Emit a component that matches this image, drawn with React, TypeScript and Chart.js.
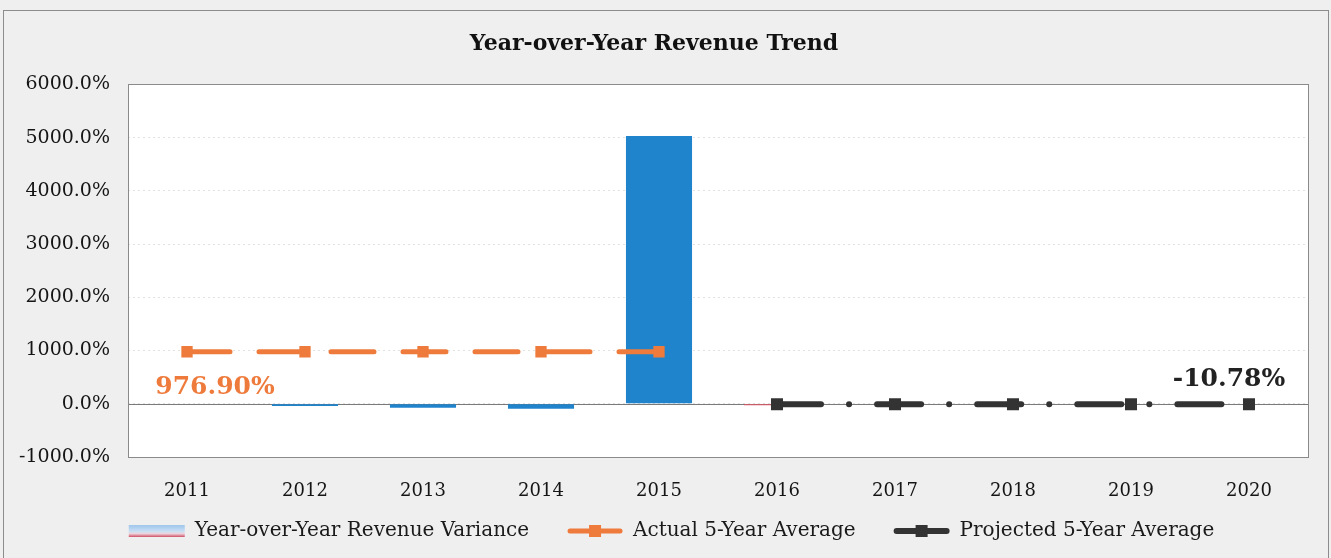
import React, { useEffect, useRef } from 'react';
import { Chart, registerables } from 'chart.js';

Chart.register(...registerables);

// ---- data ----
const chartTitle = 'Year-over-Year Revenue Trend';
const years = ['2011', '2012', '2013', '2014', '2015', '2016', '2017', '2018', '2019', '2020'];
const varianceValues: (number | null)[] = [0, -40, -75, -95, 5030, -30, null, null, null, null];
const varianceColors = ['#1f84cc', '#1f84cc', '#1f84cc', '#1f84cc', '#1f84cc', '#e05566', '#1f84cc', '#1f84cc', '#1f84cc', '#1f84cc'];
const actualAverage: (number | null)[] = [976.9, 976.9, 976.9, 976.9, 976.9, null, null, null, null, null];
const projectedAverage: (number | null)[] = [null, null, null, null, null, -10.78, -10.78, -10.78, -10.78, -10.78];
const seriesNames = ['Year-over-Year Revenue Variance', 'Actual 5-Year Average', 'Projected 5-Year Average'];
const actualLabel = '976.90%';
const projectedLabel = '-10.78%';
const yMin = -1000;
const yMax = 6000;
const yStep = 1000;

const FONT = '"DejaVu Serif", serif';
const ORANGE = '#ee7b3c';
const DARK = '#333333';

const backgroundPlugin = {
  id: 'bgFrame',
  beforeDraw(chart: any) {
    const { ctx, chartArea: a } = chart;
    ctx.save();
    ctx.fillStyle = '#efefef';
    ctx.fillRect(0, 0, chart.width, chart.height);
    ctx.strokeStyle = '#8c8c8c';
    ctx.lineWidth = 1;
    ctx.strokeRect(3.5, 10.5, chart.width - 6, chart.height + 20);
    ctx.fillStyle = '#ffffff';
    ctx.fillRect(a.left, a.top, a.right - a.left, a.bottom - a.top);
    ctx.restore();
  },
  beforeDatasetsDraw(chart: any) {
    const { ctx, chartArea: a, scales } = chart;
    const y0 = Math.round(scales.y.getPixelForValue(0)) + 0.5;
    ctx.save();
    ctx.strokeStyle = '#7a7a7a';
    ctx.lineWidth = 1;
    ctx.beginPath();
    ctx.moveTo(a.left, y0);
    ctx.lineTo(a.right, y0);
    ctx.stroke();
    ctx.strokeStyle = '#8a8a8a';
    ctx.strokeRect(Math.round(a.left) + 0.5, Math.round(a.top) + 0.5, Math.round(a.right - a.left), Math.round(a.bottom - a.top));
    ctx.restore();
  },
};

const valueLabelPlugin = {
  id: 'valueLabels',
  afterDatasetsDraw(chart: any) {
    const { ctx } = chart;
    ctx.save();
    ctx.font = `bold 25px ${FONT}`;
    ctx.textAlign = 'center';
    ctx.textBaseline = 'middle';
    const m1 = chart.getDatasetMeta(1);
    const p1 = m1.data[0];
    if (p1) {
      ctx.fillStyle = ORANGE;
      ctx.fillText(actualLabel, p1.x + 28, p1.y + 36);
    }
    const m2 = chart.getDatasetMeta(2);
    const p2 = m2.data[9];
    if (p2) {
      ctx.fillStyle = '#222222';
      ctx.fillText(projectedLabel, p2.x - 20, p2.y - 25);
    }
    ctx.restore();
  },
};

const legendPlugin = {
  id: 'customLegend',
  afterDraw(chart: any) {
    const { ctx } = chart;
    ctx.save();
    ctx.font = `20px ${FONT}`;
    const swW = 56;
    const gapT = 10;
    const gapI = 38;
    const ds = chart.data.datasets;
    const widths = ds.map((d: any) => swW + gapT + ctx.measureText(d.label).width);
    const total = widths.reduce((s: number, w: number) => s + w, 0) + gapI * (ds.length - 1);
    let x = chart.width / 2 - total / 2 + 6;
    const y = chart.chartArea.bottom + 74;
    ds.forEach((d: any, i: number) => {
      if (i === 0) {
        const g = ctx.createLinearGradient(0, y - 6, 0, y + 6);
        g.addColorStop(0, '#9fc6ec');
        g.addColorStop(0.55, '#c9dff4');
        g.addColorStop(0.72, '#eed3da');
        g.addColorStop(1, '#cf5068');
        ctx.fillStyle = g;
        ctx.fillRect(x, y - 6, swW, 12);
      } else {
        ctx.strokeStyle = d.borderColor;
        ctx.lineWidth = d.borderWidth;
        ctx.lineCap = 'round';
        ctx.beginPath();
        ctx.moveTo(x + 3, y);
        ctx.lineTo(x + swW - 3, y);
        ctx.stroke();
        ctx.fillStyle = d.borderColor;
        ctx.fillRect(x + swW / 2 - 6, y - 6, 12, 12);
      }
      ctx.fillStyle = '#1a1a1a';
      ctx.textAlign = 'left';
      ctx.textBaseline = 'middle';
      ctx.fillText(d.label, x + swW + gapT, y);
      x += widths[i] + gapI;
    });
    ctx.restore();
  },
};

export default function App() {
  const ref = useRef<HTMLCanvasElement | null>(null);

  useEffect(() => {
    if (!ref.current) return;
    const chart = new Chart(ref.current, {
      type: 'bar',
      data: {
        labels: years,
        datasets: [
          {
            type: 'bar',
            label: seriesNames[0],
            data: varianceValues,
            backgroundColor: varianceColors,
            borderWidth: 0,
            categoryPercentage: 1,
            barPercentage: 0.56,
            order: 2,
          } as any,
          {
            type: 'line',
            label: seriesNames[1],
            data: actualAverage,
            borderColor: ORANGE,
            backgroundColor: ORANGE,
            borderWidth: 5,
            borderDash: [43, 29],
            borderCapStyle: 'round',
            pointStyle: 'rect',
            pointRadius: 8,
            pointBorderWidth: 0,
            pointBackgroundColor: ORANGE,
            fill: false,
            order: 1,
          } as any,
          {
            type: 'line',
            label: seriesNames[2],
            data: projectedAverage,
            borderColor: DARK,
            backgroundColor: DARK,
            borderWidth: 6,
            borderDash: [44, 28, 0.1, 28],
            borderCapStyle: 'round',
            pointStyle: 'rect',
            pointRadius: 8.5,
            pointBorderWidth: 0,
            pointBackgroundColor: DARK,
            fill: false,
            order: 0,
          } as any,
        ],
      },
      options: {
        responsive: false,
        animation: false,
        devicePixelRatio: 1,
        layout: { padding: { left: 0, right: 23, top: 0, bottom: 51 } },
        plugins: {
          legend: { display: false },
          tooltip: { enabled: false },
          title: {
            display: true,
            text: chartTitle,
            color: '#111111',
            font: { family: FONT, size: 22, weight: 'bold' },
            padding: { top: 31, bottom: 27 },
          },
        },
        scales: {
          x: {
            offset: true,
            grid: { display: false },
            border: { display: false },
            ticks: { color: '#151515', font: { family: FONT, size: 18 }, padding: 16, maxRotation: 0 },
            afterFit: (s: any) => { s.height = 50; },
          },
          y: {
            min: yMin,
            max: yMax,
            grid: { color: '#e2e2e2', drawTicks: false, lineWidth: 1 },
            border: { display: false, dash: [2, 3] },
            ticks: {
              stepSize: yStep,
              color: '#151515',
              font: { family: FONT, size: 19 },
              padding: 18,
              callback: (v: any) => Number(v).toFixed(1) + '%',
            },
            afterFit: (s: any) => { s.width = 128; },
          },
        },
      } as any,
      plugins: [backgroundPlugin, valueLabelPlugin, legendPlugin],
    });
    return () => chart.destroy();
  }, []);

  return (
    <div style={{ position: 'fixed', left: 0, top: 0, width: 1331, height: 558, background: '#efefef' }}>
      <canvas ref={ref} width={1331} height={558} style={{ display: 'block', width: 1331, height: 558 }} />
    </div>
  );
}
